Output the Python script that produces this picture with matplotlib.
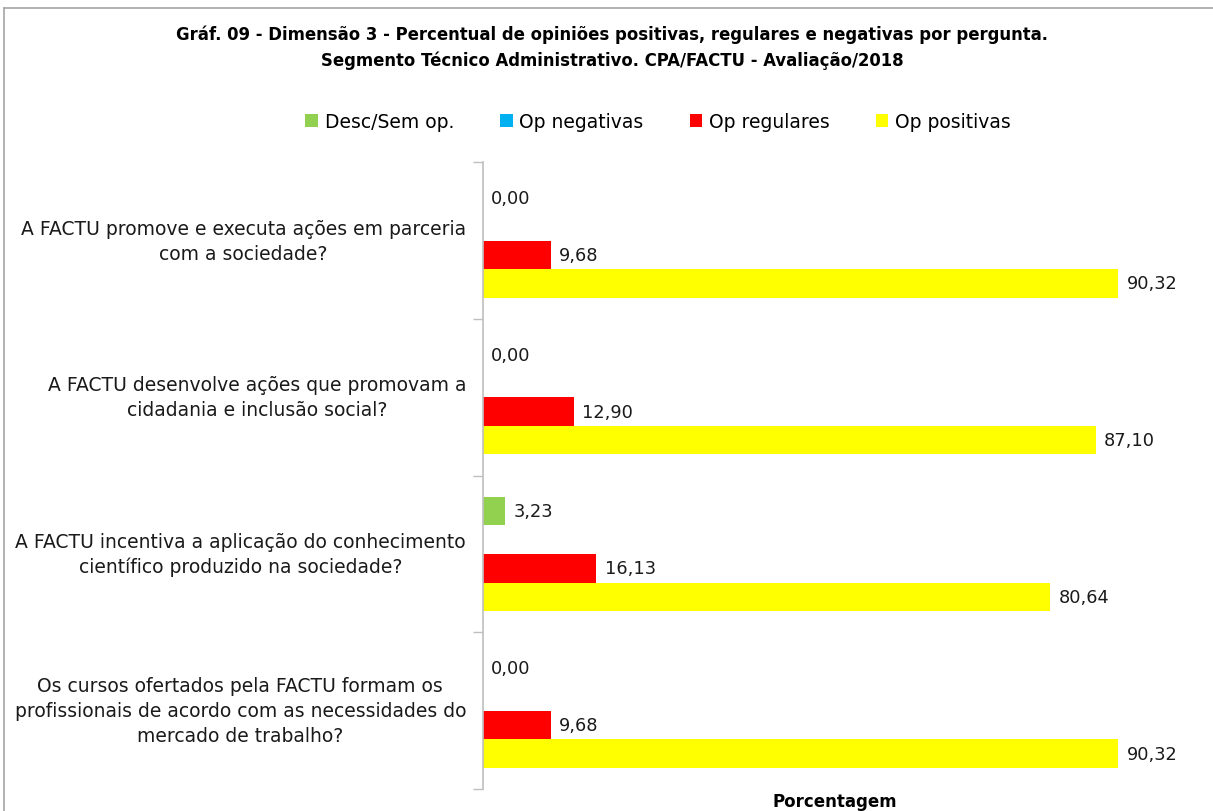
import numpy as np
import matplotlib.pyplot as plt
from matplotlib.lines import Line2D

# Dados do gráfico
perguntas = [
    "A FACTU promove e executa ações em parceria\ncom a sociedade?",
    "A FACTU desenvolve ações que promovam a\ncidadania e inclusão social?",
    "A FACTU incentiva a aplicação do conhecimento\ncientífico produzido na sociedade?",
    "Os cursos ofertados pela FACTU formam os\nprofissionais de acordo com as necessidades do\nmercado de trabalho?",
]
desc_sem_op = [0.00, 0.00, 3.23, 0.00]
op_negativas = [0.00, 0.00, 0.00, 0.00]
op_regulares = [9.68, 12.90, 16.13, 9.68]
op_positivas = [90.32, 87.10, 80.64, 90.32]

series = [
    ("Desc/Sem op.", desc_sem_op, "#92d050", True),
    ("Op negativas", op_negativas, "#00b0f0", False),
    ("Op regulares", op_regulares, "#ff0000", True),
    ("Op positivas", op_positivas, "#ffff00", True),
]

plt.rcParams['font.family'] = ['DejaVu Sans']

fig = plt.figure(figsize=(12.13, 8.12), dpi=100)
ax = fig.add_axes([0.398, 0.027, 0.58, 0.772])

y = np.arange(len(perguntas))
h = 0.182
for i, (nome, valores, cor, rotulo) in enumerate(series):
    pos = y + (i - 1.5) * h
    ax.barh(pos, valores, height=h, color=cor, label=nome)
    if rotulo:
        for p, v in zip(pos, valores):
            ax.text(v + 1.2, p, f"{v:.2f}".replace(".", ","), va="center",
                    ha="left", fontsize=12.8, color="#1a1a1a")

ax.set_xlim(0, 100)
ax.set_ylim(3.5, -0.5)
ax.set_yticks(y)
ax.set_yticklabels(perguntas, fontsize=13.5, multialignment="center",
                   color="#1a1a1a", linespacing=1.4, va="center")
ax.tick_params(axis="y", which="major", length=0, pad=12)
ax.set_yticks(np.arange(-0.5, 4, 1), minor=True)
ax.tick_params(axis="y", which="minor", length=7, color="#bfbfbf", width=1)
ax.set_xticks([])
for s in ["top", "right", "bottom"]:
    ax.spines[s].set_visible(False)
ax.spines["left"].set_color("#bfbfbf")
ax.spines["left"].set_linewidth(1.2)

fig.text(0.688, 0.012, "Porcentagem", ha="center", va="center",
         fontsize=12, fontweight="bold")

fig.text(0.5045, 0.941,
         "Gráf. 09 - Dimensão 3 - Percentual de opiniões positivas, regulares e negativas por pergunta.\n"
         "Segmento Técnico Administrativo. CPA/FACTU - Avaliação/2018",
         ha="center", va="center", fontsize=11.9, fontweight="bold", linespacing=1.5)

fig.legend(loc="center", bbox_to_anchor=(0.5425, 0.849), ncol=4, frameon=False,
           fontsize=13.5, handlelength=0.68, handleheight=0.68, handletextpad=0.35,
           columnspacing=2.45)

# moldura do gráfico
fig.add_artist(Line2D([0.0035, 1.0], [0.989, 0.989], color="#a6a6a6", lw=1.2,
                      transform=fig.transFigure))
fig.add_artist(Line2D([0.0035, 0.0035], [0.0, 0.989], color="#a6a6a6", lw=1.2,
                      transform=fig.transFigure))

fig.savefig("out.png", dpi=100)
